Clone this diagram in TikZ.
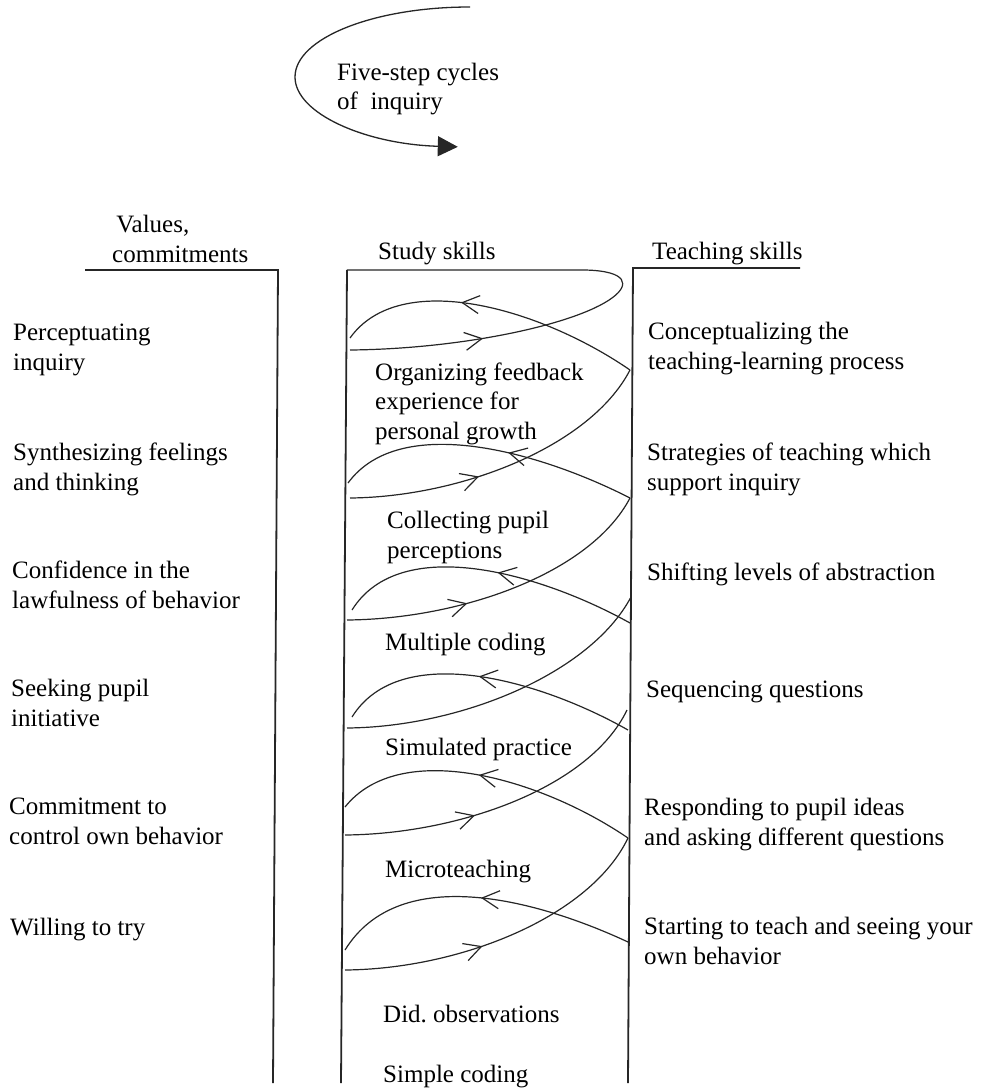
\documentclass[tikz,border=0pt]{standalone}
\usepackage{fontspec}
\setmainfont{Liberation Serif}
\usetikzlibrary{arrows.meta, decorations.markings}

\begin{document}
\begin{tikzpicture}[
    x=1pt, y=-1pt,
    % text set like the scanned page (base = baseline of the last line)
    lbl/.style={anchor=base west, inner sep=0pt, align=left, font=\fontsize{25}{29.5}\selectfont},
    % column walls and spiral strokes
    wall/.style={line width=1.8pt, black!85, line join=miter},
    helix/.style={line width=1.2pt, black!85},
    midarr/.style={postaction={decorate}, decoration={markings,
        mark=at position #1 with {\arrow{Straight Barb[length=17pt, width=18pt]}}}},
    cycarr/.style={line width=1.3pt, black!85, -{Triangle[length=20pt, width=20pt]}}
]
\useasboundingbox (0,0) rectangle (983,1089);

% ===== TOP: CYCLE ARROW =====
\node[lbl] (cycles) at (337,110) {Five-step cycles\\of~~inquiry};
\coordinate (arcstart) at (470,7);
\draw[cycarr] (arcstart) arc[start angle=270, end angle=94, x radius=175, y radius=70];

% ===== HEADERS AND WALLS =====
\node[lbl] (hvalues) at (112,262) {\,Values,\\commitments};
\node[lbl] (hstudy) at (378,259) {Study skills};
\node[lbl] (hteach) at (652,259) {Teaching skills};

\draw[wall] (85,270) -- (278,270) -- (273,1083);
\draw[wall] (347,270) -- (341,1083);
\draw[wall] (800,268) -- (633,268) -- (628,1083);

% ===== LEFT: VALUES, COMMITMENTS =====
\node[lbl] (perpet)  at (13,370)  {Perceptuating\\inquiry};
\node[lbl] (synth)   at (13,490)  {Synthesizing feelings\\and thinking};
\node[lbl] (confid)  at (12,608)  {Confidence in the\\lawfulness of behavior};
\node[lbl] (seek)    at (11,726)  {Seeking pupil\\initiative};
\node[lbl] (commit)  at (9,844)   {Commitment to\\control own behavior};
\node[lbl] (willing) at (10,935)  {Willing to try};

% ===== CENTRE: STUDY SKILLS =====
\node[lbl] (organiz) at (375,439)  {Organizing feedback\\experience for\\personal growth};
\node[lbl] (collect) at (387,558)  {Collecting pupil\\perceptions};
\node[lbl] (multi)   at (385,650)  {Multiple coding};
\node[lbl] (simul)   at (385,755)  {Simulated practice};
\node[lbl] (micro)   at (385,877)  {Microteaching};
\node[lbl] (didobs)  at (383,1022) {Did.\ observations};
\node[lbl] (simple)  at (383,1082) {Simple coding};

% ===== RIGHT: TEACHING SKILLS =====
\node[lbl] (concep)  at (648,369) {Conceptualizing the\\teaching-learning process};
\node[lbl] (strat)   at (647,490) {Strategies of teaching which\\support inquiry};
\node[lbl] (shift)   at (647,580) {Shifting levels of abstraction};
\node[lbl] (seqq)    at (646,697) {Sequencing questions};
\node[lbl] (respond) at (644,845) {Responding to pupil ideas\\and asking different questions};
\node[lbl] (start)   at (644,964) {Starting to teach and seeing your\\own behavior};

% ===== SPIRAL =====
% turning points at the left wall (l = rightward curve, u = leftward arc)
\coordinate (l1) at (350,350);  \coordinate (u1) at (350,338);
\coordinate (l2) at (350,498);  \coordinate (u2) at (348,483);
\coordinate (l3) at (347,620);  \coordinate (u3) at (352,610);
\coordinate (l4) at (347,728);  \coordinate (u4) at (352,717);
\coordinate (l5) at (345,835);  \coordinate (u5) at (345,807);
\coordinate (l6) at (345,970);  \coordinate (u6) at (345,950);
% turning points at the right wall
\coordinate (r1) at (630,370);
\coordinate (r2) at (630,498);
\coordinate (r3) at (630,623);  \coordinate (s4) at (631,597);
\coordinate (r4) at (628,730);  \coordinate (s5) at (627,710);
\coordinate (r5) at (628,838);
\coordinate (r6) at (628,942);
\coordinate (toprail) at (347,270);

% turn 1: curve into the top loop, then back along the top
\draw[helix, midarr=0.235] (l1) .. controls (460,349) and (575,325) .. (612,298)
    .. controls (630,285) and (628,271) .. (585,270) -- (toprail);
\draw[helix, midarr=0.6] (r1) .. controls (540,308) and (400,268) .. (u1);

% turn 2
\draw[helix, midarr=0.41] (l2) .. controls (460,497) and (590,447) .. (r1);
\draw[helix, midarr=0.43] (r2) .. controls (540,452) and (400,412) .. (u2);

% turn 3
\draw[helix, midarr=0.38] (l3) .. controls (460,619) and (590,574) .. (r2);
\draw[helix, midarr=0.47] (r3) .. controls (540,573) and (400,533) .. (u3);

% turn 4
\draw[helix] (l4) .. controls (460,727) and (590,674) .. (s4);
\draw[helix, midarr=0.53] (r4) .. controls (540,680) and (400,640) .. (u4);

% turn 5
\draw[helix, midarr=0.41] (l5) .. controls (460,834) and (590,787) .. (s5);
\draw[helix, midarr=0.53] (r5) .. controls (540,778) and (400,738) .. (u5);

% turn 6 (bottom)
\draw[helix, midarr=0.43] (l6) .. controls (460,969) and (590,917) .. (r5);
\draw[helix, midarr=0.5] (r6) .. controls (540,901) and (400,861) .. (u6);

\end{tikzpicture}
\end{document}
